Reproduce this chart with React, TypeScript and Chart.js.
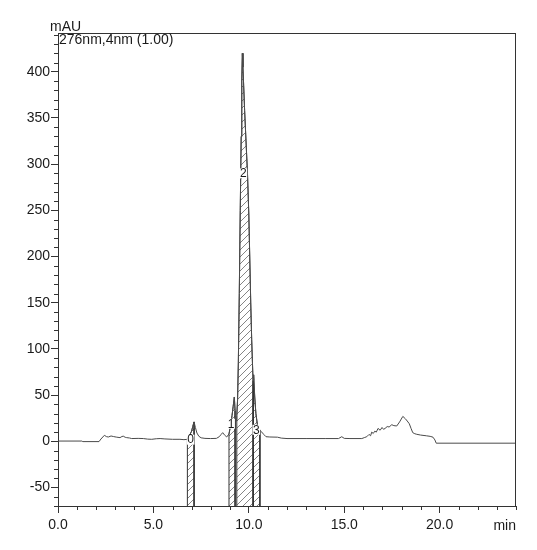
import React, { useEffect, useRef } from 'react';
import { Chart, registerables } from 'chart.js';

Chart.register(...registerables);

// Retention time (min) and detector signal (mAU)
const times = [
  0.0, 1.25, 1.3, 2.15, 2.25, 2.43, 2.55, 2.64, 2.78, 2.9, 3.05, 3.25, 3.35, 3.42, 3.52, 3.6, 3.75, 3.86,
  4.2, 4.47, 4.7, 4.91, 5.15, 5.35, 5.6, 6.0, 6.39, 6.6,
  6.78, 6.85, 6.92, 7.0, 7.06, 7.13, 7.2, 7.28, 7.38, 7.5, 7.7, 8.0, 8.3, 8.45, 8.55, 8.63, 8.72, 8.84,
  8.96, 9.05, 9.12, 9.18, 9.24, 9.28, 9.33,
  9.37, 9.41, 9.45, 9.5, 9.55, 9.6, 9.63, 9.66, 9.69, 9.73, 9.78, 9.85, 9.93, 10.0, 10.04, 10.1, 10.15,
  10.22, 10.26, 10.31, 10.37, 10.45, 10.58, 10.68, 10.78, 10.9, 11.1, 11.5, 11.7, 12.0, 13.0, 14.0, 14.7,
  14.87, 15.0, 15.3, 15.92, 16.05, 16.18, 16.3, 16.38, 16.44, 16.52, 16.6, 16.68, 16.77, 16.88, 16.98,
  17.06, 17.14, 17.25, 17.35, 17.49, 17.6, 17.75, 17.9, 18.07, 18.2, 18.3, 18.41, 18.5, 18.59, 18.7,
  18.8, 19.0, 19.3, 19.5, 19.65, 19.75, 19.82, 24.0,
];
const signal = [
  0.3, 0.3, -0.3, -0.3, 2.5, 6.5, 5.0, 4.7, 5.8, 5.2, 4.6, 4.0, 5.2, 5.6, 4.4, 4.0, 3.6, 3.0,
  3.2, 3.0, 2.4, 2.2, 2.8, 3.0, 2.6, 2.2, 2.2, 1.8,
  2.2, 4.5, 7.5, 11, 16, 21, 15, 9, 5.5, 3.8, 3.2, 3.0, 3.2, 5.0, 7.5, 9.4, 7.0, 4.7,
  8.0, 18, 28, 38, 48, 33, 22,
  28, 45, 85, 160, 250, 330, 390, 420, 405, 385, 358, 326, 290, 245, 207, 150, 110,
  66, 72, 48, 30, 18, 12, 10, 7.5, 5.0, 4.7, 4.5, 3.5, 3.0, 3.0, 3.0, 3.0,
  5.0, 3.2, 3.0, 3.0, 4.0, 5.0, 7.5, 6.0, 10, 8.5, 11, 10, 14, 12, 15,
  13, 14, 16, 15.5, 18, 17, 16.6, 21, 27, 24.5, 22, 19, 14, 9.4, 8.2,
  7.6, 6.8, 6.0, 5.4, 4.5, 1.5, -2, -2,
];

// Integrated peaks (hatched areas)
const peakIds = ['0', '1', '2', '3'];
const peakStart = [6.78, 8.96, 9.37, 10.22];
const peakEnd = [7.13, 9.28, 10.22, 10.58];
const peakLabelTime = [6.95, 9.07, 9.71, 10.39];
const peakLabelValue = [1.8, 19, 290, 12.5];

const xTicks = [0, 5, 10, 15, 20];
const yTicks = [-50, 0, 50, 100, 150, 200, 250, 300, 350, 400];
const X_MIN = 0, X_MAX = 24, Y_MIN = -70, Y_MAX = 442;
const X_MINOR = 1, Y_MINOR = 10;

const FONT = "'Liberation Sans', Arial, sans-serif";
const TEXT = '#1a1a1a';
const AXIS = '#333333';
const LINE = '#4a4a4a';

function makeHatch(): CanvasPattern | string {
  const c = document.createElement('canvas');
  const s = 7;
  c.width = s; c.height = s;
  const g = c.getContext('2d');
  if (!g) return 'rgba(0,0,0,0.2)';
  g.fillStyle = '#ffffff';
  g.fillRect(0, 0, s, s);
  g.strokeStyle = '#666666';
  g.lineWidth = 0.8;
  g.beginPath();
  g.moveTo(0, s); g.lineTo(s, 0);
  g.moveTo(-1, 1); g.lineTo(1, -1);
  g.moveTo(s - 1, s + 1); g.lineTo(s + 1, s - 1);
  g.stroke();
  const p = g.createPattern(c, 'repeat');
  return p || 'rgba(0,0,0,0.2)';
}

const decor = {
  id: 'decor',
  afterDatasetsDraw(chart: any) {
    const { ctx, scales } = chart;
    const x = scales.x, y = scales.y;
    ctx.save();
    ctx.font = `12px ${FONT}`;
    ctx.textAlign = 'center';
    ctx.textBaseline = 'middle';
    peakIds.forEach((id, i) => {
      const px = x.getPixelForValue(peakLabelTime[i]);
      const py = y.getPixelForValue(peakLabelValue[i]);
      const w = ctx.measureText(id).width;
      ctx.fillStyle = '#ffffff';
      ctx.fillRect(px - w / 2 - 0.5, py - 5, w + 1, 10);
      ctx.fillStyle = TEXT;
      ctx.fillText(id, px, py + 0.5);
    });
    ctx.restore();
  },
  afterDraw(chart: any) {
    const { ctx, chartArea: a, scales } = chart;
    const x = scales.x, y = scales.y;
    ctx.save();
    ctx.strokeStyle = AXIS;
    ctx.lineWidth = 1;
    ctx.beginPath();
    ctx.moveTo(a.left, a.top + 0.5); ctx.lineTo(a.right, a.top + 0.5);
    ctx.moveTo(a.right - 0.5, a.top); ctx.lineTo(a.right - 0.5, a.bottom);
    for (let v = X_MIN; v <= X_MAX + 1e-9; v += X_MINOR) {
      if (xTicks.includes(v)) continue;
      const px = Math.round(x.getPixelForValue(v)) + 0.5;
      ctx.moveTo(px, a.bottom); ctx.lineTo(px, a.bottom + 4);
    }
    for (let v = Y_MIN; v <= Y_MAX + 1e-9; v += Y_MINOR) {
      if (yTicks.includes(v)) continue;
      const py = Math.round(y.getPixelForValue(v)) + 0.5;
      ctx.moveTo(a.left - 4, py); ctx.lineTo(a.left, py);
    }
    ctx.stroke();

    ctx.fillStyle = TEXT;
    ctx.font = `14px ${FONT}`;
    ctx.textBaseline = 'alphabetic';
    ctx.textAlign = 'left';
    ctx.fillText('mAU', a.left - 8, a.top - 2);
    ctx.fillText('276nm,4nm (1.00)', a.left + 1, a.top + 11);
    ctx.textAlign = 'right';
    ctx.textBaseline = 'middle';
    ctx.fillText('min', a.right, a.bottom + 20);
    ctx.restore();
  },
};

export default function App() {
  const ref = useRef<HTMLCanvasElement | null>(null);

  useEffect(() => {
    const canvas = ref.current;
    if (!canvas) return;
    const hatch = makeHatch();
    const curve = times.map((t, i) => ({ x: t, y: signal[i] }));
    const regions = peakIds.map((id, k) => {
      const pts: { x: number; y: number }[] = [{ x: peakStart[k], y: Y_MIN }];
      times.forEach((t, i) => {
        if (t >= peakStart[k] - 1e-9 && t <= peakEnd[k] + 1e-9) pts.push({ x: t, y: signal[i] });
      });
      pts.push({ x: peakEnd[k], y: Y_MIN });
      return {
        label: 'Peak ' + id,
        data: pts,
        borderColor: AXIS,
        borderWidth: 1,
        backgroundColor: hatch as any,
        fill: 'start' as const,
        pointRadius: 0,
        tension: 0,
        order: 2,
      };
    });

    const chart = new Chart(canvas, {
      type: 'line',
      data: {
        datasets: [
          {
            label: '276nm',
            data: curve,
            borderColor: LINE,
            borderWidth: 1,
            pointRadius: 0,
            fill: false,
            tension: 0,
            order: 1,
          },
          ...regions,
        ],
      },
      options: {
        animation: false,
        responsive: false,
        devicePixelRatio: 1,
        layout: { padding: { left: 0, right: 21, top: 33, bottom: 0 } },
        plugins: {
          legend: { display: false },
          tooltip: { enabled: false },
          title: { display: false },
        },
        scales: {
          x: {
            type: 'linear',
            min: X_MIN,
            max: X_MAX,
            afterBuildTicks: (s: any) => {
              s.ticks = xTicks.map((v) => ({ value: v }));
            },
            afterFit: (s: any) => {
              s.height = 44;
            },
            ticks: {
              callback: (v: any) => Number(v).toFixed(1),
              font: { family: FONT, size: 14 },
              color: TEXT,
              padding: 4,
              maxRotation: 0,
              autoSkip: false,
            },
            grid: {
              drawOnChartArea: false,
              drawTicks: true,
              tickLength: 7,
              color: AXIS,
              tickColor: AXIS,
            },
            border: { display: true, color: AXIS },
          },
          y: {
            type: 'linear',
            min: Y_MIN,
            max: Y_MAX,
            afterBuildTicks: (s: any) => {
              s.ticks = yTicks.map((v) => ({ value: v }));
            },
            afterFit: (s: any) => {
              s.width = 58;
            },
            ticks: {
              callback: (v: any) => String(v),
              font: { family: FONT, size: 14 },
              color: TEXT,
              padding: 1,
              autoSkip: false,
            },
            grid: {
              drawOnChartArea: false,
              drawTicks: true,
              tickLength: 7,
              color: AXIS,
              tickColor: AXIS,
            },
            border: { display: true, color: AXIS },
          },
        },
      },
      plugins: [decor],
    });
    return () => chart.destroy();
  }, []);

  return (
    <div style={{ position: 'fixed', left: 0, top: 0, width: 537, height: 550, background: '#fff' }}>
      <canvas ref={ref} width={537} height={550} style={{ width: 537, height: 550, display: 'block' }} />
    </div>
  );
}
